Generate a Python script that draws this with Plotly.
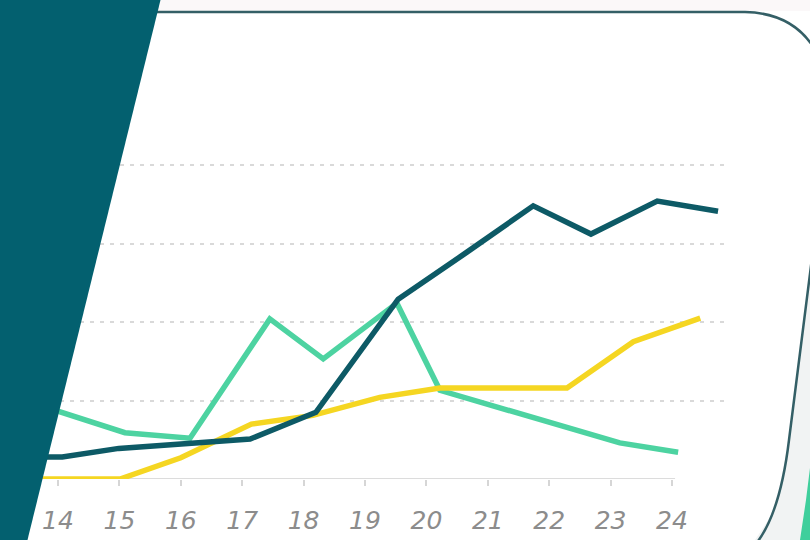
import plotly.graph_objects as go

# ---- data ----
tick_vals = [14, 15, 16, 17, 18, 19, 20, 21, 22, 23, 24]
tick_text = ["14", "15", "16", "17", "18", "19", "20", "21", "22", "23", "24"]

dark_x = [13.54, 14.07, 14.99, 16.15, 17.13, 18.2, 19.54, 20.66, 21.74, 22.68, 23.76, 24.75]
dark_y = [0.28, 0.28, 0.39, 0.46, 0.51, 0.85, 2.29, 2.89, 3.48, 3.12, 3.54, 3.41]

green_x = [13.54, 15.09, 16.15, 17.45, 18.32, 19.52, 20.22, 23.15, 24.1]
green_y = [0.98, 0.59, 0.52, 2.04, 1.53, 2.24, 1.13, 0.46, 0.34]

yellow_x = [13.54, 15.01, 16.0, 17.15, 18.15, 19.24, 20.22, 22.29, 23.37, 24.46]
yellow_y = [0.0, 0.0, 0.27, 0.70, 0.81, 1.04, 1.16, 1.16, 1.75, 2.05]

grid_vals = [1, 2, 3, 4]

W, H = 810, 540
DARK = "#0d5a66"
GREEN = "#4dd3a1"
YELLOW = "#f5d622"


def px(x, y):
    return x / W, 1 - y / H


def path(points, close=True):
    s = ""
    for i, (x, y) in enumerate(points):
        X, Y = px(x, y)
        s += ("M" if i == 0 else "L") + f"{X:.5f},{Y:.5f} "
    return s + ("Z" if close else "")


fig = go.Figure()
for xs, ys, col in [(green_x, green_y, GREEN), (yellow_x, yellow_y, YELLOW), (dark_x, dark_y, DARK)]:
    fig.add_trace(go.Scatter(x=xs, y=ys, mode="lines",
                             line=dict(color=col, width=5.5, shape="linear"),
                             hoverinfo="skip", showlegend=False))

# plot-area mapping: x=14 at px 58, 1 unit = 61.4 px ; y=0 at py 479, 1 unit = 78.5 px
x0 = 14 + (0 - 58) / 61.4
x1 = 14 + (725 - 58) / 61.4
y_top_px = 120
y1 = (479 - y_top_px) / 78.5

shapes = []
# light top strip
shapes.append(dict(type="path", xref="paper", yref="paper", layer="below",
                   path=path([(0, 0), (810, 0), (810, 11), (0, 11)]),
                   fillcolor="#fbf8f9", line=dict(width=0)))
# shadow right of card
shapes.append(dict(type="path", xref="paper", yref="paper", layer="above",
                   path=path([(812, 250), (789, 440), (775, 510), (755, 540), (810, 540)]),
                   fillcolor="#f1f3f3", line=dict(width=0)))
# green sliver bottom right
shapes.append(dict(type="path", xref="paper", yref="paper", layer="above",
                   path=path([(810, 468), (806, 500), (800, 540), (810, 540)]),
                   fillcolor="#3fcf9c", line=dict(width=0)))
# card border
X = lambda v: v / W
Y = lambda v: 1 - v / H
card = (f"M{X(-10)},{Y(12)} L{X(745)},{Y(12)} Q{X(790)},{Y(13)} {X(812)},{Y(45)} "
        f"L{X(813)},{Y(250)} L{X(789)},{Y(440)} Q{X(780)},{Y(515)} {X(755)},{Y(545)}")
shapes.append(dict(type="path", xref="paper", yref="paper", layer="above",
                   path=card, line=dict(color="#345f66", width=2.5)))
# baseline
shapes.append(dict(type="line", xref="x", yref="y", layer="below",
                   x0=x0, x1=tick_vals[-1] + 0.05, y0=0, y1=0,
                   line=dict(color="#dcdcdc", width=2)))
# left teal parallelogram
shapes.append(dict(type="path", xref="paper", yref="paper", layer="above",
                   path=path([(-2, -2), (161, -2), (27, 542), (-2, 542)]),
                   fillcolor="#03606f", line=dict(width=0)))

fig.update_layout(
    width=W, height=H,
    margin=dict(l=0, r=0, t=0, b=0),
    paper_bgcolor="white", plot_bgcolor="rgba(0,0,0,0)",
    shapes=shapes,
    xaxis=dict(domain=[0, 725 / W], range=[x0, x1], tickvals=tick_vals, ticktext=tick_text,
               showgrid=False, zeroline=False, showline=False,
               ticks="outside", ticklen=6, tickwidth=1.5, tickcolor="#d6d6d6",
               ticklabelstandoff=13,
               tickfont=dict(family="DejaVu Sans", size=25, color="#8c8c8c",
                             style="italic", weight=300)),
    yaxis=dict(domain=[1 - 479 / H, 1 - y_top_px / H], range=[0, y1],
               tickvals=grid_vals, showticklabels=False, showgrid=True,
               gridcolor="#d9d9d9", griddash="4px,6px", gridwidth=2,
               zeroline=False, showline=False),
)

fig.write_html("out.html", config={"displayModeBar": False},
               post_script="document.body.style.margin='0';document.body.style.overflow='hidden';")
